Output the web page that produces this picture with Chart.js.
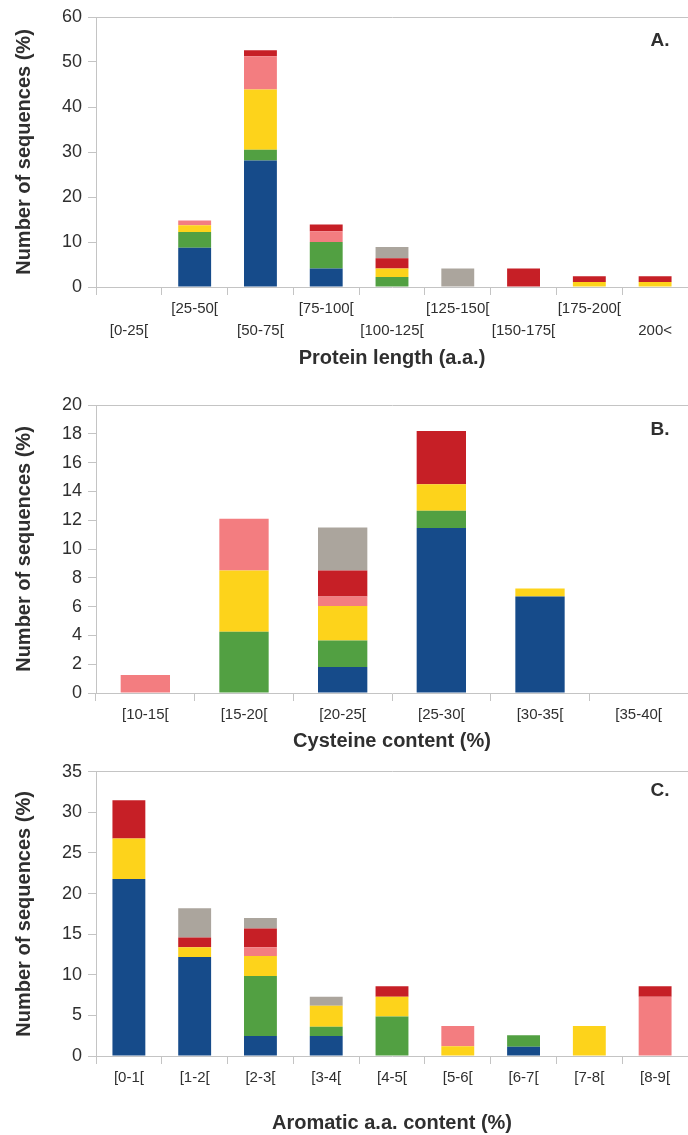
<!DOCTYPE html>
<html>
<head>
<meta charset="utf-8">
<title>Sequence composition histograms</title>
<script src="https://cdn.jsdelivr.net/npm/chart.js@4.4.1/dist/chart.umd.min.js"></script>
<style>
  html, body { margin: 0; padding: 0; background: #fff; }
  body { width: 688px; height: 1135px; position: relative; overflow: hidden; }
  .panel { position: absolute; left: 0; }
</style>
</head>
<body>
<div class="panel" style="top:0px"><canvas id="chartA" width="688" height="372"></canvas></div>
<div class="panel" style="top:380px"><canvas id="chartB" width="688" height="375"></canvas></div>
<div class="panel" style="top:755px"><canvas id="chartC" width="688" height="380"></canvas></div>
<script>
// ---- A. Protein length ----
const lengthCats   = ['[0-25[', '[25-50[', '[50-75[', '[75-100[', '[100-125[', '[125-150[', '[150-175[', '[175-200[', '200<'];
const lengthBlue   = [0, 8.7, 28.1, 4.1, 0,   0,   0,   0,   0];
const lengthGreen  = [0, 3.5, 2.4,  5.9, 2.2, 0,   0,   0,   0];
const lengthYellow = [0, 1.5, 13.4, 0,   1.9, 0,   0,   1.1, 1.1];
const lengthPink   = [0, 1.1, 7.4,  2.4, 0,   0,   0,   0,   0];
const lengthRed    = [0, 0,   1.3,  1.5, 2.3, 0,   4.1, 1.3, 1.3];
const lengthGrey   = [0, 0,   0,    0,   2.5, 4.1, 0,   0,   0];
const lengthTicks  = [0, 10, 20, 30, 40, 50, 60];

// ---- B. Cysteine content ----
const cysCats   = ['[10-15[', '[15-20[', '[20-25[', '[25-30[', '[30-35[', '[35-40['];
const cysBlue   = [0,    0,    1.8,  11.45, 6.7,  0];
const cysGreen  = [0,    4.25, 1.85, 1.2,   0,    0];
const cysYellow = [0,    4.25, 2.4,  1.85,  0.55, 0];
const cysPink   = [1.25, 3.6,  0.65, 0,     0,    0];
const cysRed    = [0,    0,    1.8,  3.7,   0,    0];
const cysGrey   = [0,    0,    3.0,  0,     0,    0];
const cysTicks  = [0, 2, 4, 6, 8, 10, 12, 14, 16, 18, 20];

// ---- C. Aromatic amino-acid content ----
const aroCats   = ['[0-1[', '[1-2[', '[2-3[', '[3-4[', '[4-5[', '[5-6[', '[6-7[', '[7-8[', '[8-9['];
const aroBlue   = [21.8, 12.2, 2.45, 2.45, 0,    0,   1.15, 0,   0];
const aroGreen  = [0,    0,    7.4,  1.15, 4.85, 0,   1.4,  0,   0];
const aroYellow = [5.0,  1.2,  2.45, 2.6,  2.45, 1.2, 0,    3.7, 0];
const aroPink   = [0,    0,    1.1,  0,    0,    2.5, 0,    0,   7.3];
const aroRed    = [4.7,  1.2,  2.3,  0,    1.3,  0,   0,    0,   1.3];
const aroGrey   = [0,    3.6,  1.3,  1.1,  0,    0,   0,    0,   0];
const aroTicks  = [0, 5, 10, 15, 20, 25, 30, 35];

const COLORS = {
  blue:   '#164b8a',
  green:  '#52a042',
  yellow: '#fdd31b',
  pink:   '#f37d80',
  red:    '#c61f26',
  grey:   '#aba59d'
};
const FONT = "'Liberation Sans', Arial, Helvetica, sans-serif";
const TEXT = '#2f2f2f';
const AXIS = '#c4c4c4';
const CLEAR = 'rgba(0,0,0,0)';

// Panel letter in the upper-right corner of the plotting area
const panelLetter = {
  id: 'panelLetter',
  afterDraw(chart, args, opts) {
    if (!opts || !opts.text) return;
    const { ctx, chartArea } = chart;
    ctx.save();
    ctx.font = 'bold 19px ' + FONT;
    ctx.fillStyle = TEXT;
    ctx.textAlign = 'center';
    ctx.textBaseline = 'middle';
    ctx.fillText(opts.text, chartArea.right - 28, chartArea.top + opts.dy);
    ctx.restore();
  }
};

function stacks(blue, green, yellow, pink, red, grey) {
  return [
    ['blue', blue], ['green', green], ['yellow', yellow],
    ['pink', pink], ['red', red], ['grey', grey]
  ].map(([name, data]) => ({
    label: name,
    data: data,
    backgroundColor: COLORS[name],
    borderWidth: 0,
    categoryPercentage: 0.5,
    barPercentage: 1.0
  }));
}

function drawPanel(id, p) {
  const yMax = p.yTicks[p.yTicks.length - 1];
  const yStep = p.yTicks[1] - p.yTicks[0];
  return new Chart(document.getElementById(id), {
    type: 'bar',
    data: { labels: p.labels, datasets: p.datasets },
    plugins: [panelLetter],
    options: {
      responsive: false,
      animation: false,
      layout: { padding: { top: p.padTop, left: 0, right: 0, bottom: 0 } },
      plugins: {
        legend: { display: false },
        tooltip: { enabled: false },
        panelLetter: { text: p.letter, dy: p.letterDy }
      },
      scales: {
        x: {
          stacked: true,
          grid: {
            drawOnChartArea: false,
            drawTicks: true,
            tickLength: 8,
            tickColor: AXIS,
            color: AXIS
          },
          border: { display: true, color: AXIS, width: 1 },
          ticks: {
            autoSkip: false,
            maxRotation: 0,
            minRotation: 0,
            padding: 3,
            color: TEXT,
            font: { family: FONT, size: 15, lineHeight: 1.45 },
            callback: p.tickCallback || function (v, i) { return p.labels[i]; }
          },
          title: {
            display: true,
            text: p.xTitle,
            color: TEXT,
            font: { family: FONT, size: 20, weight: 'bold', lineHeight: 1.2 },
            padding: { top: 0, bottom: p.titlePadBottom }
          },
          afterFit: function (s) { s.height = p.xAxisHeight; }
        },
        y: {
          stacked: true,
          min: 0,
          max: yMax,
          ticks: {
            stepSize: yStep,
            padding: 6,
            color: TEXT,
            font: { family: FONT, size: 18 }
          },
          grid: {
            drawOnChartArea: true,
            drawTicks: true,
            tickLength: 8,
            tickColor: AXIS,
            color: function (c) { return c.tick && c.tick.value === yMax ? AXIS : CLEAR; }
          },
          border: { display: true, color: AXIS, width: 1 },
          title: {
            display: true,
            text: 'Number of sequences (%)',
            color: TEXT,
            font: { family: FONT, size: 20, weight: 'bold', lineHeight: 1.2 },
            padding: { top: 12, bottom: 0 }
          },
          afterFit: function (s) { s.width = 96; }
        }
      }
    }
  });
}

drawPanel('chartA', {
  labels: lengthCats,
  datasets: stacks(lengthBlue, lengthGreen, lengthYellow, lengthPink, lengthRed, lengthGrey),
  yTicks: lengthTicks,
  xTitle: 'Protein length (a.a.)',
  letter: 'A.',
  letterDy: 24,
  padTop: 17,
  xAxisHeight: 85,
  titlePadBottom: 2,
  // alternate the category labels over two rows
  tickCallback: function (v, i) { return i % 2 === 0 ? ['', lengthCats[i]] : lengthCats[i]; }
});

drawPanel('chartB', {
  labels: cysCats,
  datasets: stacks(cysBlue, cysGreen, cysYellow, cysPink, cysRed, cysGrey),
  yTicks: cysTicks,
  xTitle: 'Cysteine content (%)',
  letter: 'B.',
  letterDy: 25,
  padTop: 25,
  xAxisHeight: 62,
  titlePadBottom: 2
});

drawPanel('chartC', {
  labels: aroCats,
  datasets: stacks(aroBlue, aroGreen, aroYellow, aroPink, aroRed, aroGrey),
  yTicks: aroTicks,
  xTitle: 'Aromatic a.a. content (%)',
  letter: 'C.',
  letterDy: 19,
  padTop: 13,
  xAxisHeight: 79,
  titlePadBottom: 0
});
</script>
</body>
</html>
